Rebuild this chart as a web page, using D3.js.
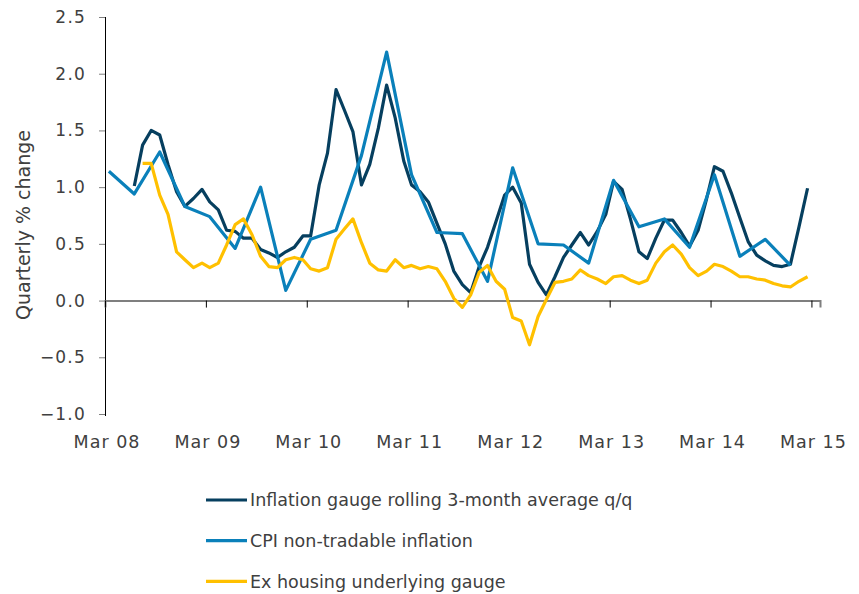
<!DOCTYPE html>
<html>
<head>
<meta charset="utf-8">
<script src="https://cdn.jsdelivr.net/npm/d3@7"></script>
<style>
  body { margin: 0; background: #fff; }
  text { font-family: "DejaVu Sans", sans-serif; fill: #404040; }
</style>
</head>
<body>
<svg id="chart" width="859" height="594"></svg>
<script>
// y axis ticks and x axis labels
const yTicks = [-1.0, -0.5, 0.0, 0.5, 1.0, 1.5, 2.0, 2.5];
const xTickLabels = ["Mar 08", "Mar 09", "Mar 10", "Mar 11", "Mar 12", "Mar 13", "Mar 14", "Mar 15"];

// Inflation gauge rolling 3-month average q/q, monthly from Jun 08
const gaugeStart = "2008-06";
const gaugeValues = [
  1.01, 1.37, 1.50, 1.46, 1.20, 0.96, 0.83, 0.90, 0.98, 0.87,
  0.80, 0.62, 0.61, 0.55, 0.55, 0.45, 0.42, 0.38, 0.43, 0.47,
  0.57, 0.57, 1.02, 1.30, 1.86, 1.68, 1.49, 1.02, 1.20, 1.52,
  1.90, 1.61, 1.23, 1.02, 0.96, 0.87, 0.68, 0.50, 0.26, 0.14,
  0.07, 0.30, 0.47, 0.70, 0.93, 1.00, 0.86, 0.32, 0.16, 0.05,
  0.21, 0.38, 0.49, 0.60, 0.49, 0.61, 0.76, 1.05, 0.98, 0.72,
  0.43, 0.37, 0.55, 0.71, 0.71, 0.60, 0.48, 0.62, 0.90, 1.18,
  1.14, 0.95, 0.73, 0.52, 0.40, 0.35, 0.31, 0.30, 0.32, 0.65,
  0.99
];

// CPI non-tradable inflation, quarterly from Mar 08
const cpiStart = "2008-03";
const cpiValues = [
  1.14, 0.94, 1.31, 0.83, 0.74, 0.46, 1.00, 0.09, 0.54, 0.62,
  1.28, 2.19, 1.11, 0.60, 0.59, 0.17, 1.17, 0.50, 0.49, 0.33,
  1.06, 0.65, 0.72, 0.47, 1.11, 0.39, 0.54, 0.31
];

// Ex housing underlying gauge, monthly from Jul 08
const exHousingStart = "2008-07";
const exHousingValues = [
  1.21, 1.21, 0.93, 0.76, 0.43, 0.36, 0.29, 0.33, 0.29, 0.33,
  0.49, 0.67, 0.72, 0.58, 0.39, 0.30, 0.29, 0.36, 0.38, 0.36,
  0.28, 0.26, 0.29, 0.54, 0.63, 0.72, 0.51, 0.33, 0.27, 0.26,
  0.36, 0.29, 0.31, 0.28, 0.30, 0.28, 0.17, 0.02, -0.06, 0.05,
  0.25, 0.31, 0.17, 0.10, -0.15, -0.18, -0.39, -0.14, 0.01, 0.16,
  0.17, 0.19, 0.27, 0.22, 0.19, 0.15, 0.21, 0.22, 0.18, 0.15,
  0.18, 0.33, 0.43, 0.49, 0.41, 0.29, 0.22, 0.26, 0.32, 0.30,
  0.26, 0.21, 0.21, 0.19, 0.18, 0.15, 0.13, 0.12, 0.17, 0.21
];

const seriesNames = ["Inflation gauge rolling 3-month average q/q", "CPI non-tradable inflation", "Ex housing underlying gauge"];
const seriesColors = ["#063f5f", "#0a80ba", "#ffc000"];

const parseMonth = d3.timeParse("%Y-%m");
const parseTick = d3.timeParse("%b %y");

function toPoints(start, values, step) {
  const s = parseMonth(start);
  // values sit in the middle of their month
  return values.map((v, i) => ({ date: d3.timeDay.offset(d3.timeMonth.offset(s, i * step), 14), value: v }));
}

const series = [
  toPoints(gaugeStart, gaugeValues, 1),
  toPoints(cpiStart, cpiValues, 3),
  toPoints(exHousingStart, exHousingValues, 1)
];

const svg = d3.select("#chart");

const x = d3.scaleTime()
  .domain([new Date(2008, 2, 1), new Date(2015, 3, 1)])
  .range([105, 820]);

const y = d3.scaleLinear()
  .domain([-1.0, 2.5])
  .range([414, 17]);

// y axis
const yAxis = svg.append("g")
  .attr("transform", "translate(105,0)")
  .call(d3.axisLeft(y).tickValues(yTicks).tickFormat(d3.format(".1f")).tickSize(6).tickPadding(13));
yAxis.select(".domain").attr("stroke", "#000").attr("d", `M0.5,${y(2.5)}V${y(-1.0) + 2}`);
yAxis.selectAll(".tick line").attr("stroke", "#7f7f7f");
yAxis.selectAll(".tick text")
  .attr("font-size", 17)
  .attr("letter-spacing", 1.2)
  .style("fill", "#404040");

// zero line with ticks hanging below
const xAxis = svg.append("g")
  .attr("transform", `translate(0,${y(0)})`)
  .call(d3.axisBottom(x).tickValues(xTickLabels.map(parseTick)).tickSize(7).tickFormat(""));
xAxis.select(".domain").attr("stroke", "#7f7f7f").attr("stroke-width", 2);
xAxis.selectAll(".tick line").attr("stroke", "#000");

// month labels at the bottom of the plot
svg.append("g").selectAll("text")
  .data(xTickLabels)
  .join("text")
  .attr("x", d => x(parseTick(d)) + 2)
  .attr("y", 442)
  .attr("dy", "0.35em")
  .attr("text-anchor", "middle")
  .attr("font-size", 17.5)
  .attr("letter-spacing", 1)
  .text(d => d);

// y axis title
svg.append("text")
  .attr("transform", "translate(23,225) rotate(-90)")
  .attr("text-anchor", "middle")
  .attr("dy", "0.35em")
  .attr("font-size", 19)
  .text("Quarterly % change");

const line = d3.line()
  .x(d => x(d.date))
  .y(d => y(d.value));

svg.append("g").selectAll("path")
  .data(series)
  .join("path")
  .attr("d", line)
  .attr("fill", "none")
  .attr("stroke", (d, i) => seriesColors[i])
  .attr("stroke-width", 3.2)
  .attr("stroke-linejoin", "round");

// legend
const legend = svg.append("g").selectAll("g")
  .data(seriesNames)
  .join("g")
  .attr("transform", (d, i) => `translate(206,${500 + i * 40.7})`);

legend.append("line")
  .attr("x1", 0).attr("x2", 41)
  .attr("stroke", (d, i) => seriesColors[i])
  .attr("stroke-width", 3.2);

legend.append("text")
  .attr("x", 44)
  .attr("dy", "0.35em")
  .attr("font-size", 17.5)
  .text(d => d);
</script>
</body>
</html>
